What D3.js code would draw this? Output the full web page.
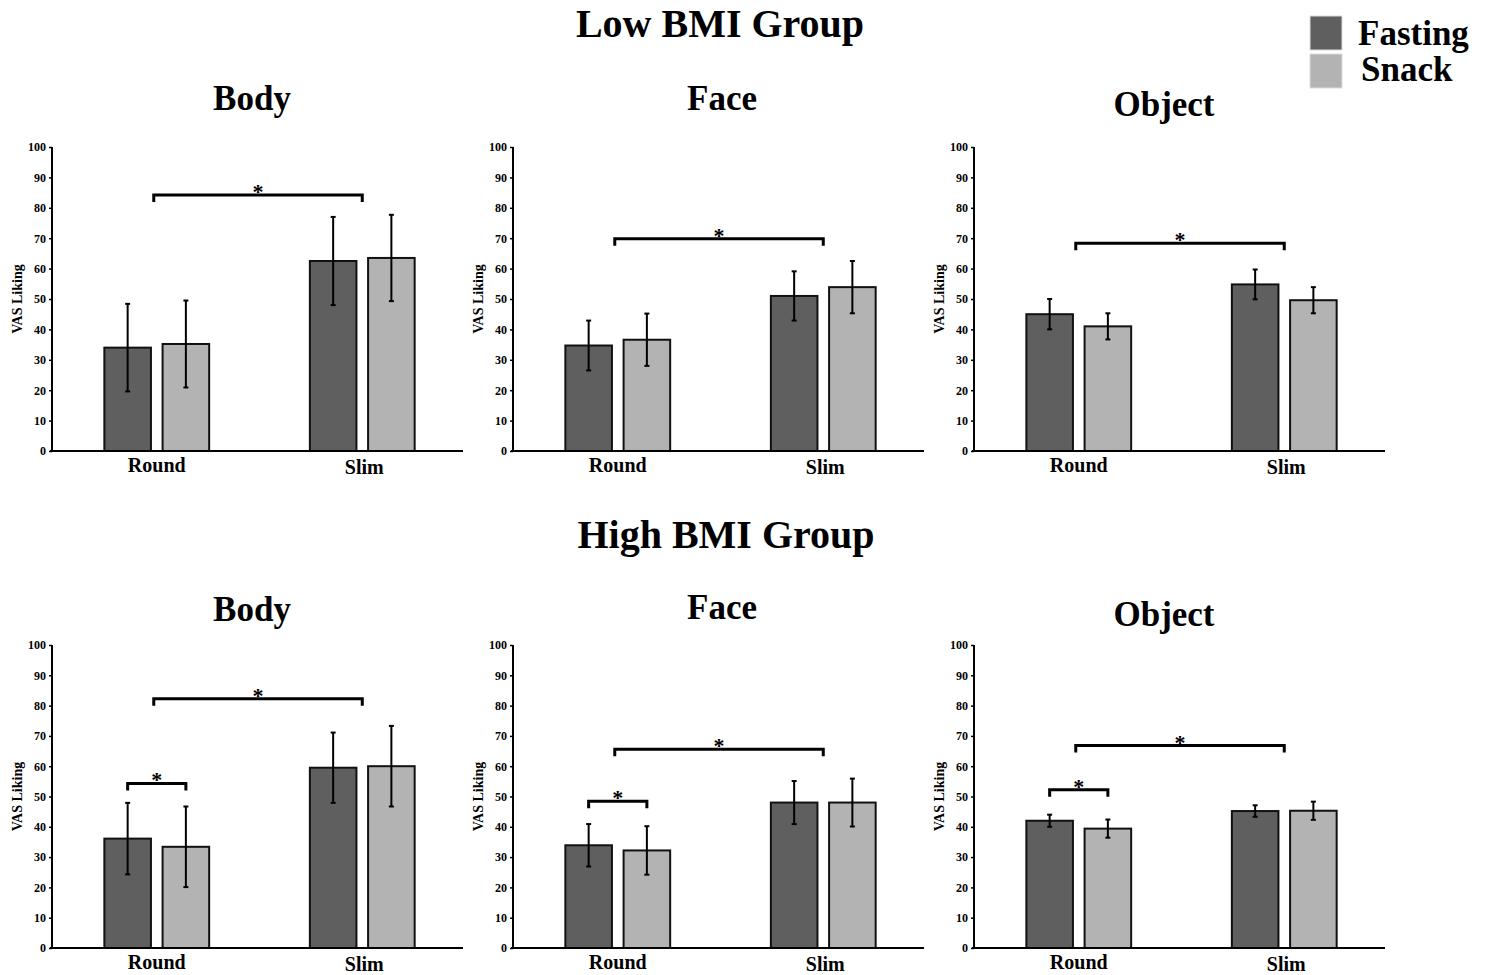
<!DOCTYPE html>
<html>
<head>
<meta charset="utf-8">
<script src="https://cdn.jsdelivr.net/npm/d3@7"></script>
<style>
  body { margin: 0; background: #fff; }
  svg text { font-family: 'Liberation Serif', 'Times New Roman', serif; font-weight: bold; fill: #000; }
</style>
</head>
<body>
<svg id="chart" width="1487" height="975"></svg>
<script>
const groups = ['Low BMI Group', 'High BMI Group']
const stimuli = ['Body', 'Face', 'Object']
const shapes = ['Round', 'Slim']
const conditions = ['Fasting', 'Snack']
const yTicks = [0, 10, 20, 30, 40, 50, 60, 70, 80, 90, 100]

// means per group -> stimulus -> [Round Fasting, Round Snack, Slim Fasting, Slim Snack]
const lowMeans = [
  [34, 35.2, 62.5, 63.5],
  [34.7, 36.6, 51, 53.9],
  [45, 41, 54.8, 49.6],
]
const lowErrors = [
  [14.4, 14.3, 14.5, 14.2],
  [8.2, 8.6, 8.1, 8.6],
  [5, 4.3, 4.9, 4.3],
]
const highMeans = [
  [36.1, 33.4, 59.5, 60],
  [33.9, 32.2, 48, 48],
  [42, 39.4, 45.2, 45.3],
]
const highErrors = [
  [11.8, 13.3, 11.6, 13.3],
  [7, 8, 7.1, 7.9],
  [2, 3, 1.9, 3],
]
// significance brackets: Round vs Slim level, Fasting vs Snack (Round) level
const lowShapeBracket = [84.2, 69.8, 68.3]
const lowRoundBracket = [null, null, null]
const highShapeBracket = [82.3, 65.6, 66.8]
const highRoundBracket = [54.3, 48.4, 52.2]

const means = [lowMeans, highMeans]
const errors = [lowErrors, highErrors]
const shapeBrackets = [lowShapeBracket, highShapeBracket]
const roundBrackets = [lowRoundBracket, highRoundBracket]

const colors = { Fasting: '#5f5f5f', Snack: '#b3b3b3' }

const svg = d3.select('#chart')

// layout
const colX = [52, 513, 974]
const rowY0 = [451, 948]
const rowY100 = [147, 645]
const axisLen = 411
const titleY = [37, 548]
const subX = [200, 209, 190]
const subY = [[110, 110, 116], [621, 619, 626]]

groups.forEach((group, gi) => {
  svg.append('text')
    .attr('x', 720 + gi * 6)
    .attr('y', titleY[gi])
    .attr('text-anchor', 'middle')
    .style('font-size', '40px')
    .text(group)

  stimuli.forEach((stim, si) => {
    const g = svg.append('g').attr('transform', `translate(${colX[si]},0)`)

    const y = d3.scaleLinear().domain([0, 100]).range([rowY0[gi], rowY100[gi]])
    const x0 = d3.scaleBand().domain(shapes).range([0, axisLen])
      .paddingInner(0.49).paddingOuter(0.245).align(0.52)
    const x1 = d3.scaleBand().domain(conditions).range([0, x0.bandwidth()])
      .paddingInner(0.2).paddingOuter(0)

    g.append('text')
      .attr('x', subX[si])
      .attr('y', subY[gi][si])
      .attr('text-anchor', 'middle')
      .style('font-size', '35px')
      .text(stim)

    // bars
    const rows = []
    shapes.forEach((shape, k) => {
      conditions.forEach((cond, c) => {
        const idx = k * 2 + c
        rows.push({ shape, cond, mean: means[gi][si][idx], err: errors[gi][si][idx] })
      })
    })

    g.selectAll('rect.bar')
      .data(rows)
      .join('rect')
      .attr('class', 'bar')
      .attr('x', (d) => x0(d.shape) + x1(d.cond))
      .attr('y', (d) => y(d.mean))
      .attr('width', x1.bandwidth())
      .attr('height', (d) => y(0) - y(d.mean))
      .style('fill', (d) => colors[d.cond])
      .style('stroke', '#111')
      .style('stroke-width', 2)

    // error bars
    const eb = g.selectAll('g.err')
      .data(rows)
      .join('g')
      .attr('class', 'err')
      .attr('transform', (d) => `translate(${x0(d.shape) + x1(d.cond) + x1.bandwidth() / 2},0)`)
    eb.append('line')
      .attr('y1', (d) => y(d.mean - d.err))
      .attr('y2', (d) => y(d.mean + d.err))
      .style('stroke', '#000').style('stroke-width', 2)
    ;[-1, 1].forEach((s) => {
      eb.append('line')
        .attr('x1', -2.5).attr('x2', 2.5)
        .attr('y1', (d) => y(d.mean + s * d.err))
        .attr('y2', (d) => y(d.mean + s * d.err))
        .style('stroke', '#000').style('stroke-width', 2)
    })

    // axes
    const yAxis = d3.axisLeft(y).tickValues(yTicks).tickSize(3).tickPadding(3)
    const ya = g.append('g').call(yAxis)
    ya.select('.domain').remove()
    ya.selectAll('.tick line').style('stroke', '#000').style('stroke-width', 1.5)
    ya.selectAll('.tick text').style('font-size', '12px').style('font-family', "'Liberation Serif', serif")

    g.append('line')
      .attr('x1', 0).attr('x2', 0)
      .attr('y1', y(100)).attr('y2', y(0))
      .style('stroke', '#000').style('stroke-width', 2)
    g.append('line')
      .attr('x1', -2).attr('x2', axisLen)
      .attr('y1', y(0)).attr('y2', y(0))
      .style('stroke', '#000').style('stroke-width', 2)

    g.selectAll('text.cat')
      .data(shapes)
      .join('text')
      .attr('class', 'cat')
      .attr('x', (d, i) => x0(d) + x0.bandwidth() / 2 + i * 2)
      .attr('y', (d, i) => y(0) + 21 + i * 1.5)
      .attr('text-anchor', 'middle')
      .style('font-size', '20px')
      .text((d) => d)

    g.append('text')
      .attr('transform', `translate(-35,${(y(0) + y(100)) / 2}) rotate(-90)`)
      .attr('text-anchor', 'middle')
      .attr('dominant-baseline', 'central')
      .style('font-size', '14px')
      .text('VAS Liking')

    // significance brackets
    const drawBracket = (xa, xb, level) => {
      const yy = y(level)
      g.append('path')
        .attr('d', `M${xa},${yy + 7}V${yy}H${xb}V${yy + 7}`)
        .style('fill', 'none').style('stroke', '#000').style('stroke-width', 3)
      g.append('text')
        .attr('x', (xa + xb) / 2)
        .attr('y', yy + 4)
        .attr('text-anchor', 'middle')
        .style('font-size', '22px')
        .text('*')
    }
    const sb = shapeBrackets[gi][si]
    if (sb !== null) {
      drawBracket(x0('Round') + x0.bandwidth() / 2 - 3, x0('Slim') + x0.bandwidth() / 2, sb)
    }
    const rb = roundBrackets[gi][si]
    if (rb !== null) {
      drawBracket(x0('Round') + x1('Fasting') + x1.bandwidth() / 2, x0('Round') + x1('Snack') + x1.bandwidth() / 2, rb)
    }
  })
})

// legend
const legend = svg.append('g').attr('transform', 'translate(1310,16)')
conditions.forEach((cond, i) => {
  legend.append('rect')
    .attr('x', 0).attr('y', i * 38)
    .attr('width', 32).attr('height', 34)
    .style('fill', colors[cond])
    .style('stroke', '#ddd').style('stroke-width', 1)
  legend.append('text')
    .attr('x', 48 + i * 3).attr('y', 29 + i * 36)
    .style('font-size', '35px')
    .text(cond)
})
</script>
</body>
</html>
